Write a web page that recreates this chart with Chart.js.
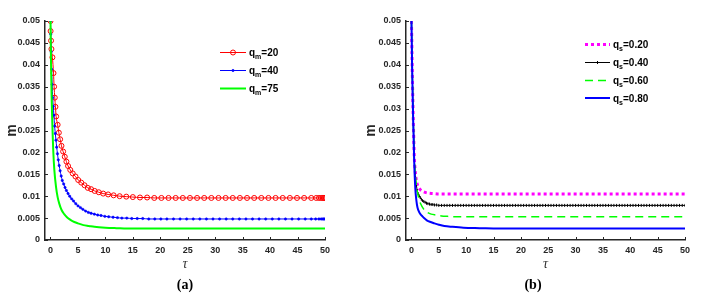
<!DOCTYPE html>
<html>
<head>
<meta charset="utf-8">
<script src="https://cdn.jsdelivr.net/npm/chart.js@4.4.1/dist/chart.umd.min.js"></script>
<style>
  html, body { margin: 0; padding: 0; background: #fff; }
  #wrap { position: relative; width: 706px; height: 298px; }
  .panel { position: absolute; top: 0; width: 353px; height: 298px; }
</style>
</head>
<body>
<div id="wrap">
  <div class="panel" style="left:0"><canvas id="chartA" width="353" height="298"></canvas></div>
  <div class="panel" style="left:353px"><canvas id="chartB" width="353" height="298"></canvas></div>
</div>
<script>
// ---- axes ----
const xTicks = [0, 5, 10, 15, 20, 25, 30, 35, 40, 45, 50];
const yTicks = [0, 0.005, 0.01, 0.015, 0.02, 0.025, 0.03, 0.035, 0.04, 0.045, 0.05];
const yTickLabels = ['0', '0.005', '0.01', '0.015', '0.02', '0.025', '0.03', '0.035', '0.04', '0.045', '0.05'];

// ---- panel (a): q_m ----
const qmLabels = ['20', '40', '75'];

const tauQm20 = [0, 0.02, 0.1, 0.17, 0.35, 0.55, 0.66, 0.78, 0.9, 1.03, 1.3, 1.52, 1.76, 2.0, 2.3, 2.6, 2.9, 3.2, 3.6, 4.05,
  4.55, 5.05, 5.6, 6.2, 6.8, 7.4, 8.05, 8.8, 9.6, 10.5, 11.5, 12.6, 13.8, 15.0, 16.3, 17.6, 18.9, 20.2, 21.5, 22.8,
  24.1, 25.4, 26.7, 28.0, 29.3, 30.6, 31.9, 33.2, 34.5, 35.8, 37.1, 38.4, 39.7, 41.0, 42.3, 43.6, 44.9, 46.2, 47.5, 48.4,
  48.9, 49.3, 49.6, 49.8, 50];
const mQm20 = [0.05, 0.0477, 0.0455, 0.0436, 0.0417, 0.0381, 0.035, 0.0325, 0.0304, 0.0282, 0.0263, 0.0245, 0.023, 0.0215, 0.0202, 0.019, 0.0179, 0.0169, 0.016, 0.0152,
  0.0145, 0.0137, 0.0131, 0.0125, 0.0119, 0.0116, 0.0112, 0.0109, 0.0106, 0.0104, 0.0102, 0.0100, 0.0099, 0.0098, 0.0097, 0.0097, 0.0096, 0.0096, 0.0096, 0.0096,
  0.0096, 0.0096, 0.0096, 0.0096, 0.0096, 0.0096, 0.0096, 0.0096, 0.0096, 0.0096, 0.0096, 0.0096, 0.0096, 0.0096, 0.0096, 0.0096, 0.0096, 0.0096, 0.0096, 0.0096,
  0.0096, 0.0096, 0.0096, 0.0096, 0.0096];

const tauQm40 = [0, 0.05, 0.12, 0.2, 0.3, 0.4, 0.5, 0.62, 0.75, 0.88, 1.0, 1.13, 1.27, 1.42, 1.58, 1.75, 1.95, 2.15, 2.4, 2.65,
  2.9, 3.2, 3.5, 3.85, 4.2, 4.6, 5.0, 5.45, 5.9, 6.4, 6.9, 7.4, 8.0, 8.6, 9.2, 9.9, 10.6, 11.4, 12.2, 13.0,
  13.9, 14.8, 15.8, 16.8, 17.9, 19.0, 20.1, 21.2, 22.4, 23.6, 24.8, 26.0, 27.2, 28.4, 29.6, 30.8, 32.0, 33.2, 34.4, 35.6,
  36.8, 38.0, 39.2, 40.4, 41.6, 42.8, 44.0, 45.2, 46.4, 47.5, 48.3, 48.9, 49.3, 49.6, 49.8, 50];
const mQm40 = [0.05, 0.047, 0.043, 0.039, 0.0355, 0.0325, 0.0305, 0.0285, 0.026, 0.0243, 0.0228, 0.0212, 0.0197, 0.0183, 0.017, 0.0158, 0.0146, 0.0136, 0.0128, 0.012,
  0.0113, 0.0106, 0.01, 0.0094, 0.0089, 0.0083, 0.0078, 0.0074, 0.007, 0.0066, 0.0063, 0.0061, 0.0059, 0.0057, 0.0056, 0.0054, 0.0053, 0.0052, 0.0051, 0.005,
  0.005, 0.0049, 0.0049, 0.0049, 0.0048, 0.0048, 0.0048, 0.0048, 0.0048, 0.0048, 0.0048, 0.0048, 0.0048, 0.0048, 0.0048, 0.0048, 0.0048, 0.0048, 0.0048, 0.0048,
  0.0048, 0.0048, 0.0048, 0.0048, 0.0048, 0.0048, 0.0048, 0.0048, 0.0048, 0.0048, 0.0048, 0.0048, 0.0048, 0.0048, 0.0048, 0.0048];

const tauQm75 = [0, 0.05, 0.1, 0.2, 0.3, 0.4, 0.5, 0.7, 1.0, 1.3, 1.6, 2.0, 2.5, 3.0, 3.5, 4.0, 5.0, 6.0, 7.0, 8.0, 10, 12, 15, 20, 30, 40, 50];
const mQm75 = [0.05, 0.045, 0.04, 0.033, 0.028, 0.024, 0.0205, 0.016, 0.0122, 0.0098, 0.0083, 0.0069, 0.0059, 0.0052, 0.0047, 0.0043, 0.0038, 0.0034, 0.0032, 0.003, 0.0028, 0.0027, 0.0026, 0.0026, 0.0026, 0.0026, 0.0026];

// ---- panel (b): q_s ----
const qsLabels = ['0.20', '0.40', '0.60', '0.80'];

const tauQs20 = [0, 0.1, 0.2, 0.3, 0.4, 0.5, 0.7, 1.0, 1.3, 1.7, 2.2, 3.0, 4.0, 5.0, 7, 10, 20, 30, 40, 50];
const mQs20 = [0.05, 0.042, 0.035, 0.029, 0.024, 0.0195, 0.0155, 0.013, 0.012, 0.0114, 0.011, 0.0107, 0.0106, 0.0105, 0.0105, 0.0105, 0.0105, 0.0105, 0.0105, 0.0105];

const tauQs40 = [0, 0.1, 0.2, 0.3, 0.4, 0.5, 0.6, 0.75, 0.9, 1.05, 1.2, 1.4, 1.6, 1.8, 2.0, 2.25, 2.5, 2.75, 3.0, 3.3,
  3.6, 3.9, 4.2, 4.6, 5.0, 5.5, 6, 6.5, 7, 7.5, 8, 8.5, 9, 9.5, 10, 10.5, 11, 11.5, 12, 12.5,
  13, 13.5, 14, 14.5, 15, 15.5, 16, 16.5, 17, 17.5, 18, 18.5, 19, 19.5, 20, 20.5, 21, 21.5, 22, 22.5,
  23, 23.5, 24, 24.5, 25, 25.5, 26, 26.5, 27, 27.5, 28, 28.5, 29, 29.5, 30, 30.5, 31, 31.5, 32, 32.5,
  33, 33.5, 34, 34.5, 35, 35.5, 36, 36.5, 37, 37.5, 38, 38.5, 39, 39.5, 40, 40.5, 41, 41.5, 42, 42.5,
  43, 43.5, 44, 44.5, 45, 45.5, 46, 46.5, 47, 47.5, 48, 48.5, 49, 49.5, 50];
const mQs40 = [0.05, 0.042, 0.035, 0.029, 0.024, 0.0195, 0.0165, 0.0142, 0.0125, 0.0113, 0.0106, 0.0101, 0.0097, 0.0093, 0.009, 0.0088, 0.0086, 0.0084, 0.0083, 0.0082,
  0.0081, 0.0081, 0.008, 0.008, 0.0079, 0.0079, 0.0079, 0.0079, 0.0079, 0.0079, 0.0079, 0.0079, 0.0079, 0.0079, 0.0079, 0.0079, 0.0079, 0.0079, 0.0079, 0.0079,
  0.0079, 0.0079, 0.0079, 0.0079, 0.0079, 0.0079, 0.0079, 0.0079, 0.0079, 0.0079, 0.0079, 0.0079, 0.0079, 0.0079, 0.0079, 0.0079, 0.0079, 0.0079, 0.0079, 0.0079,
  0.0079, 0.0079, 0.0079, 0.0079, 0.0079, 0.0079, 0.0079, 0.0079, 0.0079, 0.0079, 0.0079, 0.0079, 0.0079, 0.0079, 0.0079, 0.0079, 0.0079, 0.0079, 0.0079, 0.0079,
  0.0079, 0.0079, 0.0079, 0.0079, 0.0079, 0.0079, 0.0079, 0.0079, 0.0079, 0.0079, 0.0079, 0.0079, 0.0079, 0.0079, 0.0079, 0.0079, 0.0079, 0.0079, 0.0079, 0.0079,
  0.0079, 0.0079, 0.0079, 0.0079, 0.0079, 0.0079, 0.0079, 0.0079, 0.0079, 0.0079, 0.0079, 0.0079, 0.0079, 0.0079, 0.0079];

const tauQs60 = [0, 0.1, 0.2, 0.3, 0.4, 0.5, 0.7, 1.0, 1.3, 1.7, 2.2, 2.9, 3.6, 4.5, 5.5, 6.6, 8, 10, 15, 20, 30, 40, 50];
const mQs60 = [0.05, 0.042, 0.035, 0.029, 0.024, 0.0192, 0.0148, 0.0115, 0.0097, 0.0082, 0.0071, 0.0063, 0.0059, 0.0057, 0.0055, 0.0054, 0.0053, 0.0053, 0.0053, 0.0053, 0.0053, 0.0053, 0.0053];

const tauQs80 = [0, 0.1, 0.2, 0.3, 0.4, 0.5, 0.7, 0.9, 1.1, 1.4, 1.7, 2.0, 2.3, 2.8, 3.5, 4.2, 5.0, 6.0, 7.5, 9.5, 12.5, 16, 20, 30, 40, 50];
const mQs80 = [0.05, 0.041, 0.034, 0.028, 0.023, 0.018, 0.0118, 0.009, 0.0074, 0.0064, 0.0058, 0.0054, 0.005, 0.0045, 0.0041, 0.0038, 0.0035, 0.0032, 0.003, 0.0028, 0.0027, 0.0026, 0.0026, 0.0026, 0.0026, 0.0026];

const INK = '#262626';
const SANS = '"Liberation Sans", Arial, sans-serif';

function pts(t, m) {
  return t.map((v, i) => ({ x: v, y: m[i] }));
}

// inward tick marks, legend with subscripts, panel caption
const panelDecor = {
  id: 'panelDecor',
  afterDraw(chart, args, o) {
    const { ctx, chartArea, scales } = chart;
    ctx.save();
    ctx.strokeStyle = INK;
    ctx.lineWidth = 1;
    scales.x.ticks.forEach(t => {
      const px = Math.round(scales.x.getPixelForValue(t.value)) + 0.5;
      ctx.beginPath();
      ctx.moveTo(px, chartArea.bottom);
      ctx.lineTo(px, chartArea.bottom - 3);
      ctx.stroke();
    });
    scales.y.ticks.forEach(t => {
      const py = Math.round(scales.y.getPixelForValue(t.value)) + 0.5;
      ctx.beginPath();
      ctx.moveTo(chartArea.left, py);
      ctx.lineTo(chartArea.left + 3, py);
      ctx.stroke();
    });

    // legend
    o.legendRows.forEach((rowY, i) => {
      const ds = chart.data.datasets[i];
      const x0 = o.legendX, x1 = o.legendX + o.legendLen;
      ctx.save();
      ctx.strokeStyle = ds.borderColor;
      ctx.lineWidth = ds.borderWidth;
      ctx.setLineDash(ds.borderDash || []);
      ctx.beginPath();
      ctx.moveTo(x0, rowY);
      ctx.lineTo(x1, rowY);
      ctx.stroke();
      if (ds.pointRadius > 0) {
        ctx.setLineDash([]);
        ctx.fillStyle = ds.pointBackgroundColor;
        ctx.strokeStyle = ds.pointBorderColor;
        ctx.lineWidth = ds.pointBorderWidth;
        Chart.helpers.drawPoint(ctx, {
          pointStyle: ds.pointStyle,
          rotation: ds.pointRotation || 0,
          radius: ds.pointRadius,
          borderWidth: ds.pointBorderWidth
        }, (x0 + x1) / 2, rowY);
      }
      ctx.restore();
      let tx = x1 + 3;
      ctx.fillStyle = '#000';
      ctx.textBaseline = 'alphabetic';
      ctx.textAlign = 'left';
      ctx.font = 'bold 10px ' + SANS;
      ctx.fillText('q', tx, rowY + 3.5);
      tx += ctx.measureText('q').width;
      ctx.font = 'bold 7px ' + SANS;
      ctx.fillText(o.sub, tx, rowY + 6.5);
      tx += ctx.measureText(o.sub).width;
      ctx.font = 'bold 10px ' + SANS;
      ctx.fillText('=' + o.values[i], tx, rowY + 3.5);
    });

    // caption
    ctx.fillStyle = '#000';
    ctx.font = 'bold 14px "Liberation Serif", "Times New Roman", serif';
    ctx.textAlign = 'center';
    ctx.textBaseline = 'middle';
    ctx.fillText(o.caption, o.captionX, 285);
    ctx.restore();
  }
};

function makeChart(id, datasets, cfg) {
  return new Chart(document.getElementById(id), {
    type: 'line',
    data: { datasets },
    plugins: [panelDecor],
    options: {
      responsive: false,
      animation: false,
      events: [],
      layout: { padding: { left: 0, right: cfg.padRight, top: 21, bottom: 0 } },
      elements: { line: { cubicInterpolationMode: 'monotone' } },
      plugins: {
        legend: { display: false },
        tooltip: { enabled: false },
        panelDecor: cfg.decor
      },
      scales: {
        x: {
          type: 'linear',
          min: -1,
          max: 50,
          afterBuildTicks: s => { s.ticks = xTicks.map(v => ({ value: v })); },
          afterFit: s => { s.height = 58; },
          grid: { display: false, drawTicks: false },
          border: { display: true, color: INK, width: 1.5 },
          ticks: { color: INK, padding: 5, maxRotation: 0, font: { family: SANS, size: 9, weight: 'bold' } },
          title: {
            display: true, text: 'τ', color: '#333',
            font: { family: '"Liberation Serif", serif', size: 14, style: 'italic' },
            padding: { top: 0, bottom: 25 }
          }
        },
        y: {
          min: 0,
          max: 0.05,
          afterBuildTicks: s => { s.ticks = yTicks.map(v => ({ value: v })); },
          afterFit: s => { s.width = cfg.yWidth; },
          grid: { display: false, drawTicks: false },
          border: { display: true, color: INK, width: 1.5 },
          ticks: {
            color: INK, padding: 5,
            font: { family: SANS, size: 9, weight: 'bold' },
            callback: (v, i) => yTickLabels[i]
          },
          title: {
            display: true, text: 'm', color: INK,
            font: { family: SANS, size: 14, weight: 'bold' },
            padding: { top: cfg.yTitlePad, bottom: 0 }
          }
        }
      }
    }
  });
}

makeChart('chartA', [
  {
    label: 'q_m=' + qmLabels[0], data: pts(tauQm20, mQm20), order: 3,
    borderColor: '#ff0000', borderWidth: 1, pointStyle: 'circle', pointRadius: 2.5,
    pointBorderWidth: 1, pointBackgroundColor: 'rgba(255,255,255,0)', pointBorderColor: '#ff0000'
  },
  {
    label: 'q_m=' + qmLabels[1], data: pts(tauQm40, mQm40), order: 2,
    borderColor: '#0000ff', borderWidth: 1, pointStyle: 'circle', pointRadius: 1.2,
    pointBorderWidth: 0.5, pointBackgroundColor: '#0000ff', pointBorderColor: '#0000ff'
  },
  {
    label: 'q_m=' + qmLabels[2], data: pts(tauQm75, mQm75), order: 1,
    borderColor: '#00ff00', borderWidth: 2, pointRadius: 0
  }
], {
  padRight: 28, yWidth: 45, yTitlePad: 4,
  decor: { legendX: 220, legendLen: 26, legendRows: [52.5, 70.5, 88.5], sub: 'm', values: qmLabels, caption: '(a)', captionX: 185 }
});

makeChart('chartB', [
  {
    label: 'q_s=' + qsLabels[0], data: pts(tauQs20, mQs20), order: 4,
    borderColor: '#ff00ff', borderWidth: 3, borderDash: [3, 3], pointRadius: 0
  },
  {
    label: 'q_s=' + qsLabels[1], data: pts(tauQs40, mQs40), order: 3,
    borderColor: '#000000', borderWidth: 1, pointStyle: 'line', pointRotation: 90, pointRadius: 1.5,
    pointBorderWidth: 1, pointBackgroundColor: '#000000', pointBorderColor: '#000000'
  },
  {
    label: 'q_s=' + qsLabels[2], data: pts(tauQs60, mQs60), order: 2,
    borderColor: '#00ff00', borderWidth: 1.5, borderDash: [8, 5], pointRadius: 0
  },
  {
    label: 'q_s=' + qsLabels[3], data: pts(tauQs80, mQs80), order: 1,
    borderColor: '#0000ff', borderWidth: 2, pointRadius: 0
  }
], {
  padRight: 21, yWidth: 53, yTitlePad: 10,
  decor: { legendX: 232, legendLen: 25, legendRows: [44.5, 62.5, 80.5, 98], sub: 's', values: qsLabels, caption: '(b)', captionX: 180 }
});
</script>
</body>
</html>
